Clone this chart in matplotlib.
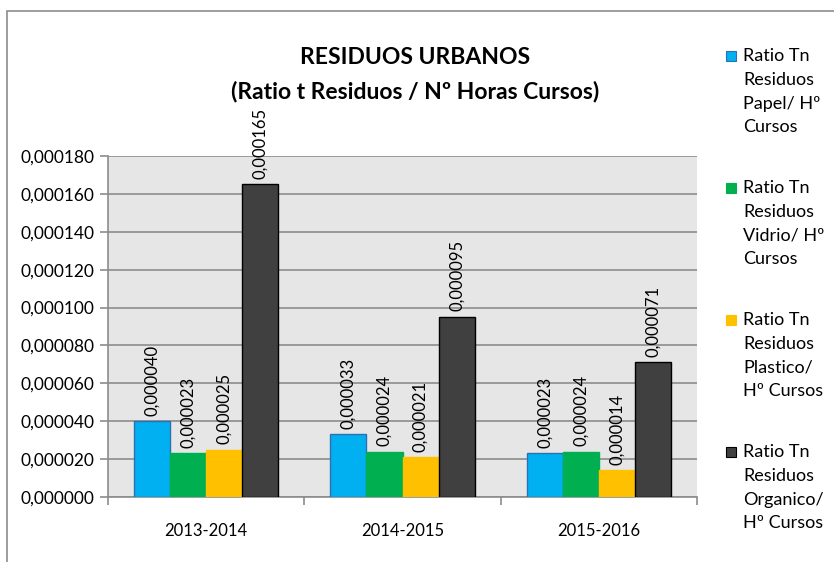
import matplotlib
matplotlib.use("Agg")
import matplotlib.pyplot as plt
from matplotlib.patches import Rectangle
import numpy as np

plt.rcParams['font.family'] = ['Lato', 'DejaVu Sans']

categories = ["2013-2014", "2014-2015", "2015-2016"]
series_names = [
    "Ratio Tn\nResiduos\nPapel/ Hº\nCursos",
    "Ratio Tn\nResiduos\nVidrio/ Hº\nCursos",
    "Ratio Tn\nResiduos\nPlastico/\nHº Cursos",
    "Ratio Tn\nResiduos\nOrganico/\nHº Cursos",
]
papel = [0.000040, 0.000033, 0.000023]
vidrio = [0.000023, 0.000024, 0.000024]
plastico = [0.000025, 0.000021, 0.000014]
organico = [0.000165, 0.000095, 0.000071]
series_values = [papel, vidrio, plastico, organico]
colors = ["#00b0f0", "#00b050", "#ffc000", "#404040"]
edgecolors = ["#2e6fb3", "#00b050", "#ffc000", "#000000"]
yticks = [i * 0.00002 for i in range(10)]

W, H = 834, 562
fig = plt.figure(figsize=(W / 100, H / 100), dpi=100)
fig.patch.set_facecolor("white")

# outer chart border
fig.add_artist(Rectangle((7 / W, -0.01), 1.0, 1 - 11 / H + 0.01, transform=fig.transFigure,
                         fill=False, edgecolor="#8c8c8c", linewidth=1.2))

ax = fig.add_axes([108 / W, 1 - 497 / H, (697 - 108) / W, (497 - 156) / H])
ax.set_facecolor("#e6e6e6")

x = np.arange(len(categories))
bw = 0.184
for i, (vals, c, ec) in enumerate(zip(series_values, colors, edgecolors)):
    pos = x + (i - 1.5) * bw
    ax.bar(pos, vals, width=bw, color=c, edgecolor=ec, linewidth=1.0, zorder=3)
    for px, v in zip(pos, vals):
        ax.annotate(f"{v:.6f}".replace(".", ","), (px, v), xytext=(0, 4),
                    textcoords="offset points", rotation=90, ha="center", va="bottom",
                    fontsize=12, color="black", annotation_clip=False)

ax.set_xlim(-0.5, 2.5)
ax.set_ylim(0, 0.00018)
ax.set_yticks(yticks)
ax.set_yticklabels([f"{t:.6f}".replace(".", ",") for t in yticks], fontsize=12.5)
ax.yaxis.grid(True, color="#8c8c8c", linewidth=1.2, zorder=0)
ax.set_axisbelow(True)
ax.set_xticks(x)
ax.set_xticklabels(categories, fontsize=12)
ax.set_xticks([-0.5, 0.5, 1.5, 2.5], minor=True)
ax.tick_params(axis="x", which="major", length=0, pad=19)
ax.tick_params(axis="x", which="minor", length=6, color="#8c8c8c", width=1.2)
ax.tick_params(axis="y", length=6, color="#8c8c8c", width=1.2, pad=4)
for s in ["top", "right"]:
    ax.spines[s].set_visible(False)
for s in ["left", "bottom"]:
    ax.spines[s].set_color("#8c8c8c")
    ax.spines[s].set_linewidth(1.2)

fig.text(415 / W, 1 - 58 / H, "RESIDUOS URBANOS", ha="center", va="center",
         fontsize=16.5, fontweight="bold")
fig.text(415 / W, 1 - 91 / H, "(Ratio t Residuos / Nº Horas Cursos)", ha="center", va="center",
         fontsize=16.5, fontweight="bold")

# legend
for i, (name, c, ec) in enumerate(zip(series_names, colors, edgecolors)):
    ytop = 56 + i * 132
    fig.add_artist(Rectangle((726 / W, 1 - (ytop + 5) / H), 10 / W, 10 / H,
                             transform=fig.transFigure, facecolor=c, edgecolor=ec, linewidth=0.8))
    fig.text(743 / W, 1 - (ytop - 8) / H, name, ha="left", va="top", fontsize=13,
             linespacing=1.6)

fig.savefig("out.png", dpi=100)
